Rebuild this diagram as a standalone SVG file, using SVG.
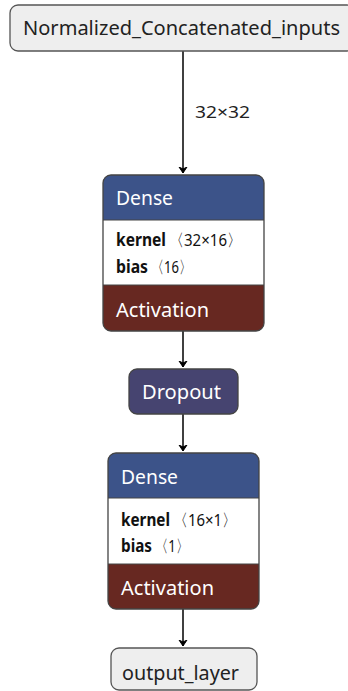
<svg xmlns="http://www.w3.org/2000/svg" width="348" height="691" viewBox="0 0 348 691">
<defs>
<style>
text{font-family:"Noto Sans","Open Sans",sans-serif;}
.io{fill:#eeeeee;stroke:#555555;stroke-width:1.3;}
.lbl{font-size:20px;fill:#222222;}
.hdr{font-size:20px;fill:#ffffff;}
.attr{font-size:17px;fill:#111111;}
.b{font-weight:bold;}
.edge{stroke:#000000;stroke-width:1.5;fill:none;marker-end:url(#ah);}
.outline{fill:none;stroke:#444444;stroke-width:1.3;}
</style>
<marker id="ah" markerWidth="10" markerHeight="10" refX="6" refY="5" orient="auto" markerUnits="userSpaceOnUse">
<path d="M0,1 L6,5 L0,9 L2,5 Z" fill="#000" stroke="#000" stroke-width="1"/>
</marker>
<clipPath id="c1"><rect x="103" y="175" width="161" height="156" rx="8"/></clipPath>
<clipPath id="c2"><rect x="108" y="453" width="151" height="156" rx="8"/></clipPath>
</defs>
<g id="edges">
<path class="edge" d="M183,51 V173"/>
<text x="195" y="118" textLength="55" lengthAdjust="spacingAndGlyphs" style="font-size:17px;fill:#222">32×32</text>
<path class="edge" d="M183,331 V367"/>
<path class="edge" d="M183,414 V451"/>
<path class="edge" d="M183,609 V646"/>
</g>
<g id="node-input">
<rect class="io" x="10" y="5" width="345" height="46" rx="8"/>
<text class="lbl" x="23" y="35" textLength="317" lengthAdjust="spacingAndGlyphs">Normalized_Concatenated_inputs</text>
</g>
<g id="node-dense1">
<g clip-path="url(#c1)">
<rect x="103" y="175" width="161" height="45" fill="#3c5389"/>
<rect x="103" y="220" width="161" height="65" fill="#ffffff"/>
<rect x="103" y="285" width="161" height="46" fill="#672821"/>
</g>
<line x1="103" y1="220" x2="264" y2="220" stroke="#444" stroke-width="1"/>
<line x1="103" y1="285" x2="264" y2="285" stroke="#444" stroke-width="1"/>
<rect class="outline" x="103" y="175" width="161" height="156" rx="8"/>
<text class="hdr" x="116" y="205" textLength="57" lengthAdjust="spacingAndGlyphs">Dense</text>
<text class="attr b" x="116" y="246" textLength="50" lengthAdjust="spacingAndGlyphs">kernel</text>
<text class="attr" x="169" y="246" textLength="73" lengthAdjust="spacingAndGlyphs">〈32×16〉</text>
<text class="attr b" x="116" y="273" textLength="32" lengthAdjust="spacingAndGlyphs">bias</text>
<text class="attr" x="151" y="273" textLength="41" lengthAdjust="spacingAndGlyphs">〈16〉</text>
<text class="hdr" x="116" y="317" textLength="93" lengthAdjust="spacingAndGlyphs">Activation</text>
</g>
<g id="node-dropout">
<rect x="129" y="369" width="109" height="45" rx="8" fill="#464470" stroke="#444" stroke-width="1.3"/>
<text class="hdr" x="142" y="399" textLength="79" lengthAdjust="spacingAndGlyphs">Dropout</text>
</g>
<g id="node-dense2">
<g clip-path="url(#c2)">
<rect x="108" y="453" width="151" height="45" fill="#3c5389"/>
<rect x="108" y="498" width="151" height="66" fill="#ffffff"/>
<rect x="108" y="564" width="151" height="45" fill="#672821"/>
</g>
<line x1="108" y1="498" x2="259" y2="498" stroke="#444" stroke-width="1"/>
<line x1="108" y1="564" x2="259" y2="564" stroke="#444" stroke-width="1"/>
<rect class="outline" x="108" y="453" width="151" height="156" rx="8"/>
<text class="hdr" x="121" y="484" textLength="57" lengthAdjust="spacingAndGlyphs">Dense</text>
<text class="attr b" x="121" y="526" textLength="49" lengthAdjust="spacingAndGlyphs">kernel</text>
<text class="attr" x="173" y="526" textLength="64" lengthAdjust="spacingAndGlyphs">〈16×1〉</text>
<text class="attr b" x="121" y="552" textLength="31" lengthAdjust="spacingAndGlyphs">bias</text>
<text class="attr" x="155" y="552" textLength="34" lengthAdjust="spacingAndGlyphs">〈1〉</text>
<text class="hdr" x="121" y="595" textLength="93" lengthAdjust="spacingAndGlyphs">Activation</text>
</g>
<g id="node-output">
<rect class="io" x="111" y="648" width="146" height="42" rx="8"/>
<text class="lbl" x="122" y="680" textLength="117" lengthAdjust="spacingAndGlyphs">output_layer</text>
</g>
</svg>
